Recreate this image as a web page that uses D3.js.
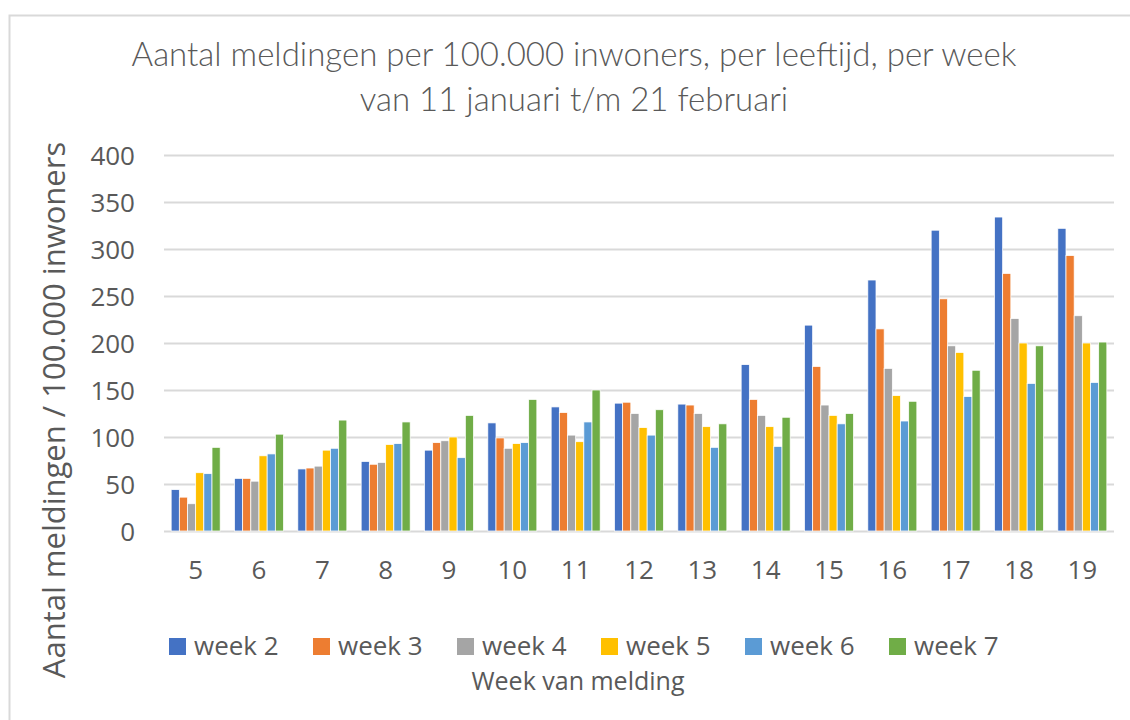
<!DOCTYPE html>
<html>
<head>
<meta charset="utf-8">
<script src="https://cdn.jsdelivr.net/npm/d3@7"></script>
<style>
  body { margin: 0; background: #fff; }
  svg { display: block; }
  text { font-family: "Open Sans", sans-serif; fill: #595959; }
</style>
</head>
<body>
<svg id="chart" width="1130" height="720"></svg>
<script>
// weeks of report (x categories)
const weeks = ['5', '6', '7', '8', '9', '10', '11', '12', '13', '14', '15', '16', '17', '18', '19']
const seriesNames = ['week 2', 'week 3', 'week 4', 'week 5', 'week 6', 'week 7']
const colors = ['#4472C4', '#ED7D31', '#A5A5A5', '#FFC000', '#5B9BD5', '#70AD47']

// values, one array per series
const week2 = [44, 56, 66, 74, 86, 115, 132, 136, 135, 177, 219, 267, 320, 334, 322]
const week3 = [36, 56, 67, 71, 94, 99, 126, 137, 134, 140, 175, 215, 247, 274, 293]
const week4 = [29, 53, 69, 73, 96, 88, 102, 125, 125, 123, 134, 173, 197, 226, 229]
const week5 = [62, 80, 86, 92, 100, 93, 95, 110, 111, 111, 123, 144, 190, 200, 200]
const week6 = [61, 82, 88, 93, 78, 94, 116, 102, 89, 90, 114, 117, 143, 157, 158]
const week7 = [89, 103, 118, 116, 123, 140, 150, 129, 114, 121, 125, 138, 171, 197, 201]
const yTicks = [0, 50, 100, 150, 200, 250, 300, 350, 400]

const series = [week2, week3, week4, week5, week6, week7]

const svg = d3.select('#chart')

// outer chart border (runs off the right and bottom edge)
svg.append('rect')
    .attr('x', 9.5).attr('y', 15.5)
    .attr('width', 1130).attr('height', 720)
    .attr('fill', 'none')
    .attr('stroke', '#d9d9d9')
    .attr('stroke-width', 2)

// title
const title = svg.append('text')
    .attr('text-anchor', 'middle')
    .style('font-family', 'Lato, sans-serif')
    .style('font-weight', 300)
    .style('font-size', '33px')
title.append('tspan').attr('x', 574).attr('y', 66).text('Aantal meldingen per 100.000 inwoners, per leeftijd, per week')
title.append('tspan').attr('x', 574).attr('y', 111).text('van 11 januari t/m 21 februari')

// scales
const x = d3.scaleBand()
    .domain(weeks)
    .range([164, 1114])
    .paddingInner(0.226)
    .paddingOuter(0.113)

const xInner = d3.scaleBand()
    .domain(seriesNames)
    .range([0, x.bandwidth()])

const y = d3.scaleLinear()
    .domain([0, 400])
    .range([531, 155])

// y axis with gridlines
const yaxis = d3.axisLeft(y)
    .tickValues(yTicks)
    .tickSize(-(1114 - 164))
    .tickPadding(29)
d3.select('#chart').append('g')
    .attr('transform', 'translate(164, 0)')
    .call(yaxis)
    .call(g => g.select('.domain').remove())
    .call(g => g.selectAll('line').attr('stroke', '#d9d9d9').attr('stroke-width', 2))
    .call(g => g.selectAll('text')
        .style('font-size', '26px')
        .attr('fill', '#595959')
        .attr('dy', '0.36em'))

// x axis labels
const xaxis = d3.axisBottom(x).tickSize(0).tickPadding(30)
svg.append('g')
    .attr('transform', 'translate(0, 531)')
    .call(xaxis)
    .call(g => g.select('.domain').remove())
    .call(g => g.selectAll('text')
        .style('font-size', '26px')
        .attr('fill', '#595959'))

// bars
const groups = svg.append('g').selectAll('g')
    .data(weeks)
    .enter()
    .append('g')
    .attr('transform', d => 'translate(' + x(d) + ',0)')

groups.selectAll('rect')
    .data((w, i) => series.map((s, j) => ({ name: seriesNames[j], value: s[i], color: colors[j] })))
    .enter()
    .append('rect')
        .attr('x', d => xInner(d.name))
        .attr('y', d => y(d.value))
        .attr('width', xInner.bandwidth())
        .attr('height', d => y(0) - y(d.value))
        .attr('fill', d => d.color)
        .attr('stroke', '#fff')
        .attr('stroke-width', 0.75)

// legend
const legend = svg.append('g').selectAll('g')
    .data(seriesNames)
    .enter()
    .append('g')
    .attr('transform', (d, i) => 'translate(' + (169 + i * 144) + ', 638)')
legend.append('rect')
    .attr('width', 17).attr('height', 17)
    .attr('fill', (d, i) => colors[i])
legend.append('text')
    .attr('x', 25).attr('y', 17)
    .style('font-size', '26px')
    .text(d => d)

// axis titles
svg.append('text')
    .attr('x', 578).attr('y', 690)
    .attr('text-anchor', 'middle')
    .style('font-size', '25px')
    .text('Week van melding')

svg.append('text')
    .attr('transform', 'translate(65, 410) rotate(-90)')
    .attr('text-anchor', 'middle')
    .style('font-size', '31px')
    .text('Aantal meldingen / 100.000 inwoners')
</script>
</body>
</html>
